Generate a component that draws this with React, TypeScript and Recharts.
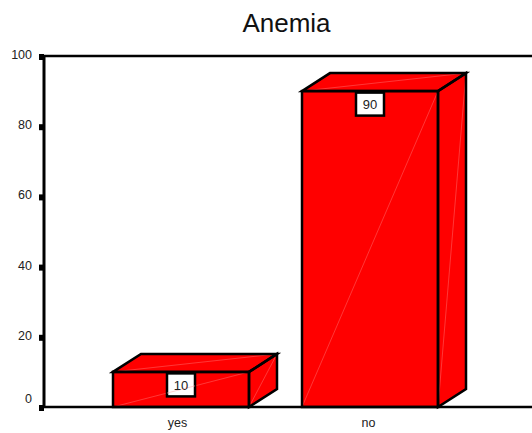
import React from 'react'
import { Bar, BarChart, LabelList, ReferenceLine, XAxis, YAxis } from 'recharts'

const categories = ['yes', 'no']
const percentValues = [10, 90]
const yTicks = [0, 20, 40, 60, 80, 100]

const chartData = categories.map((name, i) => ({ name, value: percentValues[i] }))

const FONT = '"Liberation Sans", Arial, sans-serif'
const DEPTH_X = 28
const DEPTH_Y = 18
const RED = '#ff0000'
const SHEEN = '#ff5c5c'

const Bar3D = (props: any) => {
  const { x, y, width, height } = props
  const r = x + width
  const b = y + height
  const topFace = `${x},${y} ${x + DEPTH_X},${y - DEPTH_Y} ${r + DEPTH_X},${y - DEPTH_Y} ${r},${y}`
  const sideFace = `${r},${y} ${r + DEPTH_X},${y - DEPTH_Y} ${r + DEPTH_X},${b - DEPTH_Y} ${r},${b}`
  return (
    <g>
      <rect x={x} y={y} width={width} height={height} fill={RED} />
      <polygon points={topFace} fill={RED} />
      <polygon points={sideFace} fill={RED} />
      {/* faint gradient seams */}
      <g stroke={SHEEN} strokeWidth={0.6}>
        <line x1={x} y1={b} x2={r} y2={y} />
        <line x1={x} y1={y} x2={r + DEPTH_X} y2={y - DEPTH_Y} />
        <line x1={r} y1={b} x2={r + DEPTH_X} y2={y - DEPTH_Y} />
      </g>
      <g fill="none" stroke="#000" strokeWidth={2.5} strokeLinejoin="miter">
        <rect x={x} y={y} width={width} height={height} />
        <polygon points={topFace} />
        <polygon points={sideFace} />
      </g>
    </g>
  )
}

const ValueBox = (props: any) => {
  const { x, y, width, height, value, index } = props
  const cx = x + width / 2
  const clipId = `box-${index}`
  return (
    <g>
      <clipPath id={clipId}>
        <rect x={cx - 14} y={y + 1.5} width={28} height={23} />
      </clipPath>
      <rect x={cx - 14} y={y + 1.5} width={28} height={23} fill="#fff" stroke="#000" strokeWidth={2.5} />
      <line x1={x} y1={y + height} x2={x + width} y2={y} stroke="#ffb0b0" strokeWidth={0.6} clipPath={`url(#${clipId})`} />
      <text x={cx} y={y + 18} textAnchor="middle" fontSize={13} fontFamily={FONT} fill="#222">
        {value}
      </text>
    </g>
  )
}

const YTick = (props: any) => {
  const { x, y, payload } = props
  // the zero label sits above its tick in the original
  const labelY = payload.value === 0 ? y - 8 : y - 1
  return (
    <g>
      <rect x={x - 5} y={y - 2} width={5} height={6} fill="#000" />
      <text x={x - 12} y={labelY + 4} textAnchor="end" fontSize={12.5} fontFamily={FONT} fill="#222">
        {payload.value}
      </text>
    </g>
  )
}

const XTick = (props: any) => {
  const { x, y, payload } = props
  // category labels are not quite centred under the bars in the original
  const shift = payload.value === 'yes' ? -3 : -1
  return (
    <text x={x + shift} y={y + 20} textAnchor="middle" fontSize={12.5} fontFamily={FONT} fill="#222">
      {payload.value}
    </text>
  )
}

export default function App() {
  return (
    <div style={{ position: 'absolute', left: 0, top: 0, width: 532, height: 433, background: '#fff' }}>
      <style>{'body{margin:0}'}</style>
      <div
        style={{
          position: 'absolute',
          left: 0,
          width: 573,
          textAlign: 'center',
          top: 9,
          fontFamily: FONT,
          fontSize: 26,
          color: '#111',
          lineHeight: '28px',
        }}
      >
        Anemia
      </div>
      <BarChart
        width={532}
        height={433}
        data={chartData}
        margin={{ top: 56, right: 0, bottom: 0, left: 0 }}
        barSize={136}
      >
        <XAxis
          dataKey="name"
          padding={{ left: 42, right: 68 }}
          tickLine={false}
          tickSize={0}
          tickMargin={0}
          axisLine={{ stroke: '#000', strokeWidth: 2.5 }}
          tick={<XTick />}
          interval={0}
          height={26}
        />
        <YAxis
          width={44}
          domain={[0, 100]}
          ticks={yTicks}
          tickLine={false}
          tickSize={0}
          tickMargin={0}
          axisLine={{ stroke: '#000', strokeWidth: 3 }}
          tick={<YTick />}
        />
        <ReferenceLine y={100} stroke="#000" strokeWidth={2.5} />
        <Bar dataKey="value" shape={<Bar3D />} isAnimationActive={false}>
          <LabelList dataKey="value" content={<ValueBox />} />
        </Bar>
      </BarChart>
    </div>
  )
}
